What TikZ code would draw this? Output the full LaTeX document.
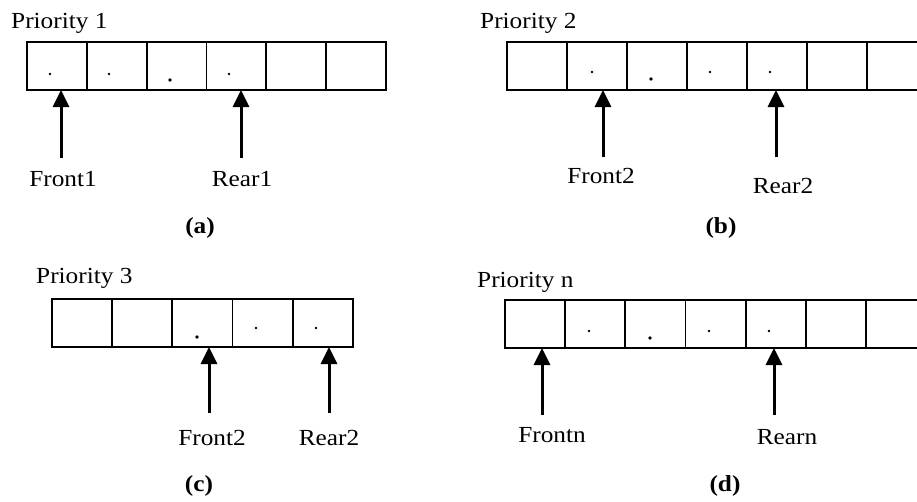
\documentclass[tikz,border=0pt]{standalone}
\usepackage{fontspec}
\setmainfont{Liberation Serif}[FakeStretch=1.1]
\usetikzlibrary{arrows.meta,positioning,calc}

\tikzset{
  cell/.style={draw, line width=1.6pt, minimum width=60pt, minimum height=48pt, inner sep=0pt, outer sep=0pt},
  ptr/.style={line width=3pt, -{Triangle[length=17pt,width=16pt]}},
  lbl/.style={font=\fontsize{23}{27}\selectfont, inner sep=0pt},
  captext/.style={font=\fontsize{23}{27}\selectfont\bfseries, inner sep=0pt},
}

\begin{document}
\begin{tikzpicture}[x=1pt, y=-1pt]
    \clip (0,0) rectangle (917,501);

    % Queue (a)
    \node[lbl, anchor=base west] (pa) at (11,28) {Priority 1};
    \foreach \i in {1,...,6}
        \node[cell] (a\i) at ({57+59.8*(\i-1)},66) {};
    \foreach \p in {(50,74),(109,74),(229,74)}
        \fill \p circle (1.3);
    \fill (170,80) circle (1.8);
    \coordinate (afh) at (61,90);
    \coordinate (aft) at (61,158);
    \coordinate (arh) at (241,90);
    \coordinate (art) at (241,158);
    \draw[ptr] (aft) -- (afh);
    \draw[ptr] (art) -- (arh);
    \node[lbl, anchor=base] (fa) at (63,186) {Front1};
    \node[lbl, anchor=base] (ra) at (242,186) {Rear1};
    \node[captext, anchor=base] (capa) at (200,233) {(a)};

    % Queue (b)
    \node[lbl, anchor=base west] (pb) at (480,28) {Priority 2};
    \foreach \i in {1,...,7}
        \node[cell] (b\i) at ({537+60*(\i-1)},66) {};
    \foreach \p in {(592,72),(710,72),(770,72)}
        \fill \p circle (1.3);
    \fill (651,79) circle (1.8);
    \coordinate (bfh) at (603,90);
    \coordinate (bft) at (603,157);
    \coordinate (brh) at (776,90);
    \coordinate (brt) at (776,157);
    \draw[ptr] (bft) -- (bfh);
    \draw[ptr] (brt) -- (brh);
    \node[lbl, anchor=base] (fb) at (601,183) {Front2};
    \node[lbl, anchor=base] (rb) at (783,193) {Rear2};
    \node[captext, anchor=base] (capb) at (721,233) {(b)};

    % Queue (c)
    \node[lbl, anchor=base west] (pc) at (36,283) {Priority 3};
    \foreach \i in {1,...,5}
        \node[cell] (c\i) at ({82+60.2*(\i-1)},323) {};
    \foreach \p in {(256,328),(316,328)}
        \fill \p circle (1.3);
    \fill (197,337) circle (1.8);
    \coordinate (cfh) at (209,347);
    \coordinate (cft) at (209,413);
    \coordinate (crh) at (329,347);
    \coordinate (crt) at (329,413);
    \draw[ptr] (cft) -- (cfh);
    \draw[ptr] (crt) -- (crh);
    \node[lbl, anchor=base] (fc) at (212,445) {Front2};
    \node[lbl, anchor=base] (rc) at (329,445) {Rear2};
    \node[captext, anchor=base] (capc) at (199,491) {(c)};

    % Queue (d)
    \node[lbl, anchor=base west] (pd) at (477,287) {Priority n};
    \foreach \i in {1,...,7}
        \node[cell] (d\i) at ({535+60.2*(\i-1)},324) {};
    \foreach \p in {(589,331),(709,331),(769,331)}
        \fill \p circle (1.3);
    \fill (650,338) circle (1.8);
    \coordinate (dfh) at (542,348);
    \coordinate (dft) at (542,415);
    \coordinate (drh) at (774,348);
    \coordinate (drt) at (774,415);
    \draw[ptr] (dft) -- (dfh);
    \draw[ptr] (drt) -- (drh);
    \node[lbl, anchor=base] (fd) at (552,442) {Frontn};
    \node[lbl, anchor=base] (rd) at (787,444) {Rearn};
    \node[captext, anchor=base] (capd) at (725,491) {(d)};
\end{tikzpicture}
\end{document}
